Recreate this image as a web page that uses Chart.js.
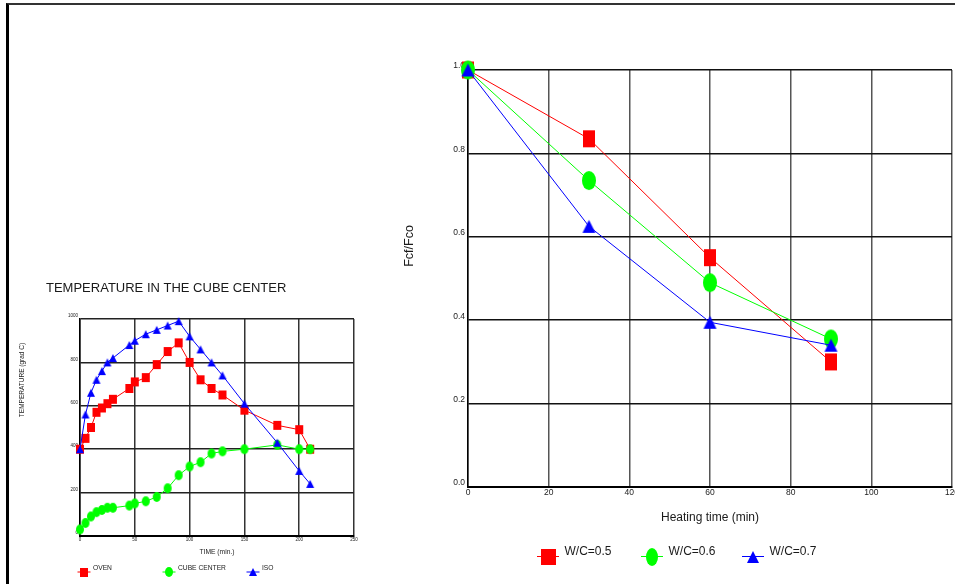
<!DOCTYPE html>
<html>
<head>
<meta charset="utf-8">
<title>Temperature and Fcf/Fco</title>
<script src="https://cdn.jsdelivr.net/npm/chart.js@4.4.1/dist/chart.umd.min.js"></script>
<style>
  html, body { margin: 0; padding: 0; background: #fff; }
  #page { position: relative; width: 955px; height: 584px; overflow: hidden; background: #fff; }
  #frame { position: absolute; left: 6px; top: 3px; width: 1000px; height: 700px;
           border-left: 3px solid #000; border-top: 2px solid #333; box-sizing: border-box; }
  canvas { position: absolute; left: 0; top: 0; }
</style>
</head>
<body>
<div id="page">
  <div id="frame"></div>
  <canvas id="tempChart" width="955" height="584"></canvas>
  <canvas id="ratioChart" width="955" height="584"></canvas>
</div>
<script>
// ---- Temperature in the cube center ----
const tempTitle = 'TEMPERATURE IN THE CUBE CENTER';
const tempAxisTitle = 'TEMPERATURE (grad C)';
const timeAxisTitle = 'TIME (min.)';
const tempSeriesNames = ['OVEN', 'CUBE CENTER', 'ISO'];
const timeMin = [0, 5, 10, 15, 20, 25, 30, 45, 50, 60, 70, 80, 90, 100, 110, 120, 130, 150, 180, 200, 210];
const ovenTemp = [400, 450, 500, 570, 590, 610, 630, 680, 710, 730, 790, 850, 890, 800, 720, 680, 650, 580, 510, 490, 400];
const cubeCenterTemp = [30, 60, 90, 110, 120, 130, 130, 140, 150, 160, 180, 220, 280, 320, 340, 380, 390, 400, 420, 400, 400];
const isoTemp = [400, 560, 660, 720, 760, 800, 820, 880, 900, 930, 950, 970, 990, 920, 860, 800, 740, 610, 430, 300, 240];
const timeTicks = [0, 50, 100, 150, 200, 250];
const tempTicks = [0, 200, 400, 600, 800, 1000];

// ---- Residual ratio vs heating time ----
const ratioAxisTitle = 'Fcf/Fco';
const heatingAxisTitle = 'Heating time (min)';
const ratioSeriesNames = ['W/C=0.5', 'W/C=0.6', 'W/C=0.7'];
const heatingTime = [0, 30, 60, 90];
const ratioWC05 = [1.0, 0.835, 0.55, 0.30];
const ratioWC06 = [1.0, 0.735, 0.49, 0.355];
const ratioWC07 = [1.0, 0.625, 0.395, 0.34];
const heatingTicks = [0, 20, 40, 60, 80, 100, 120];
const ratioTicks = [0, 0.2, 0.4, 0.6, 0.8, 1.0];

const FONT = 'Arial, "Liberation Sans", Helvetica, sans-serif';
Chart.defaults.font.family = FONT;
Chart.defaults.color = '#222';

const RED = '#ff0000', GREEN = '#00ff00', BLUE = '#0000ff';

// small bitmap markers (allows non-square squares and ellipses)
function marker(shape, w, h, color) {
  const c = document.createElement('canvas');
  c.width = Math.ceil(w) + 2;
  c.height = Math.ceil(h) + 2;
  const g = c.getContext('2d');
  const cx = c.width / 2, cy = c.height / 2;
  g.fillStyle = color;
  g.beginPath();
  if (shape === 'rect') {
    g.rect(cx - w / 2, cy - h / 2, w, h);
  } else if (shape === 'ellipse') {
    g.ellipse(cx, cy, w / 2, h / 2, 0, 0, Math.PI * 2);
  } else {
    g.moveTo(cx, cy - h / 2);
    g.lineTo(cx + w / 2, cy + h / 2);
    g.lineTo(cx - w / 2, cy + h / 2);
    g.closePath();
  }
  g.fill();
  return c;
}

const toPoints = (xs, ys) => xs.map((x, i) => ({ x, y: ys[i] }));
const fixedTicks = values => scale => { scale.ticks = values.map(v => ({ value: v })); };

// free-standing captions and line+marker legend entries
const panelText = {
  id: 'panelText',
  afterDraw(chart, args, opts) {
    const { ctx, chartArea: a } = chart;
    ctx.save();
    ctx.fillStyle = opts.color || '#1a1a1a';
    for (const t of opts.texts || []) {
      ctx.save();
      ctx.font = t.size + 'px ' + FONT;
      ctx.textAlign = t.align || 'left';
      ctx.textBaseline = t.baseline || 'alphabetic';
      ctx.translate(a.left + t.dx, a.top + t.dy);
      if (t.rotate) ctx.rotate(t.rotate * Math.PI / 180);
      ctx.fillText(t.text, 0, 0);
      ctx.restore();
    }
    const lg = opts.legend;
    if (lg) {
      chart.data.datasets.forEach((ds, i) => {
        const x = a.left + lg.slots[i];
        const y = a.bottom + lg.dy;
        ctx.strokeStyle = ds.borderColor;
        ctx.lineWidth = ds.borderWidth;
        ctx.beginPath();
        ctx.moveTo(x - lg.lineHalf, y);
        ctx.lineTo(x + lg.lineHalf, y);
        ctx.stroke();
        const m = (lg.markers && lg.markers[i]) || ds.pointStyle;
        ctx.drawImage(m, Math.round(x - m.width / 2), Math.round(y - m.height / 2));
        ctx.font = lg.size + 'px ' + FONT;
        ctx.textAlign = 'left';
        ctx.textBaseline = 'alphabetic';
        ctx.fillText(ds.label, x + lg.textGap, a.bottom + lg.textDy);
      });
    }
    ctx.restore();
  }
};

function series(label, xs, ys, color, style, order) {
  return {
    label, data: toPoints(xs, ys),
    borderColor: color, backgroundColor: color, borderWidth: 1,
    pointStyle: style, pointRadius: 6, pointHoverRadius: 6,
    tension: 0, clip: false, order
  };
}

// ---------- left panel ----------
new Chart(document.getElementById('tempChart'), {
  type: 'line',
  data: {
    datasets: [
      series(tempSeriesNames[0], timeMin, ovenTemp, RED, marker('rect', 8, 9, RED), 3),
      series(tempSeriesNames[1], timeMin, cubeCenterTemp, GREEN, marker('ellipse', 8, 10, GREEN), 2),
      series(tempSeriesNames[2], timeMin, isoTemp, BLUE, marker('triangle', 8, 8, BLUE), 1)
    ]
  },
  options: {
    responsive: false, animation: false, events: [],
    layout: { autoPadding: false, padding: { left: 14, top: 319, right: 601, bottom: 24 } },
    plugins: {
      legend: { display: false }, tooltip: { enabled: false },
      panelText: {
        texts: [
          { text: tempTitle, dx: -34, dy: -27.5, size: 13 },
          { text: tempAxisTitle, dx: -58, dy: 61, size: 6.5, rotate: -90, align: 'center', baseline: 'middle' }
        ],
        legend: { slots: [4, 89, 173], dy: 36, textDy: 34, textGap: 9, lineHalf: 6.5, size: 6.7 }
      }
    },
    scales: {
      x: {
        type: 'linear', min: 0, max: 250,
        afterBuildTicks: fixedTicks(timeTicks),
        ticks: { font: { size: 4.5 }, padding: 1, maxRotation: 0, autoSkip: false, callback: v => String(v) },
        grid: { color: '#333', lineWidth: 1.5, drawTicks: false },
        border: { color: '#000', width: 2 },
        title: { display: true, text: timeAxisTitle, font: { size: 6.7 }, color: '#1a1a1a', padding: { top: 0, bottom: 4.3 } },
        afterFit(s) { s.height = 24; s.paddingLeft = 0; s.paddingRight = 0; }
      },
      y: {
        type: 'linear', min: 0, max: 1000,
        afterBuildTicks: fixedTicks(tempTicks),
        ticks: { font: { size: 4.5 }, padding: 2, labelOffset: -3, autoSkip: false, callback: v => String(v) },
        grid: { color: '#222', lineWidth: 1.5, drawTicks: false },
        border: { color: '#000', width: 1.5 },
        afterFit(s) { s.width = 66; s.paddingTop = 0; s.paddingBottom = 0; }
      }
    }
  },
  plugins: [panelText]
});

// ---------- right panel ----------
new Chart(document.getElementById('ratioChart'), {
  type: 'line',
  data: {
    datasets: [
      series(ratioSeriesNames[0], heatingTime, ratioWC05, RED, marker('rect', 12, 17, RED), 3),
      series(ratioSeriesNames[1], heatingTime, ratioWC06, GREEN, marker('ellipse', 14, 19, GREEN), 2),
      series(ratioSeriesNames[2], heatingTime, ratioWC07, BLUE, marker('triangle', 13, 13, BLUE), 1)
    ]
  },
  options: {
    responsive: false, animation: false, events: [],
    layout: { autoPadding: false, padding: { left: 400, top: 70, right: 3, bottom: 57 } },
    plugins: {
      legend: { display: false }, tooltip: { enabled: false },
      panelText: {
        texts: [
          { text: ratioAxisTitle, dx: -58, dy: 176, size: 12.5, rotate: -90, align: 'center', baseline: 'middle' }
        ],
        legend: {
          slots: [80, 184, 285], dy: 69.5, textDy: 67.5, textGap: 16.5, lineHalf: 11, size: 12,
          markers: [marker('rect', 15, 16, RED), marker('ellipse', 12, 18, GREEN), marker('triangle', 12, 12, BLUE)]
        }
      }
    },
    scales: {
      x: {
        type: 'linear', min: 0, max: 120,
        afterBuildTicks: fixedTicks(heatingTicks),
        ticks: { font: { size: 8.5 }, padding: 1, maxRotation: 0, autoSkip: false, callback: v => String(v) },
        grid: { color: '#555', lineWidth: 1.5, drawTicks: false },
        border: { color: '#000', width: 2 },
        title: { display: true, text: heatingAxisTitle, font: { size: 12 }, color: '#1a1a1a', padding: { top: 0, bottom: 1.8 } },
        afterFit(s) { s.height = 40; s.paddingLeft = 0; s.paddingRight = 0; }
      },
      y: {
        type: 'linear', min: 0, max: 1,
        afterBuildTicks: fixedTicks(ratioTicks),
        ticks: { font: { size: 8.5 }, padding: 3, labelOffset: -4, autoSkip: false, callback: v => Number(v).toFixed(1) },
        grid: { color: '#111', lineWidth: 1.5, drawTicks: false },
        border: { color: '#000', width: 1.5 },
        afterFit(s) { s.width = 68; s.paddingTop = 0; s.paddingBottom = 0; }
      }
    }
  },
  plugins: [panelText]
});
</script>
</body>
</html>
